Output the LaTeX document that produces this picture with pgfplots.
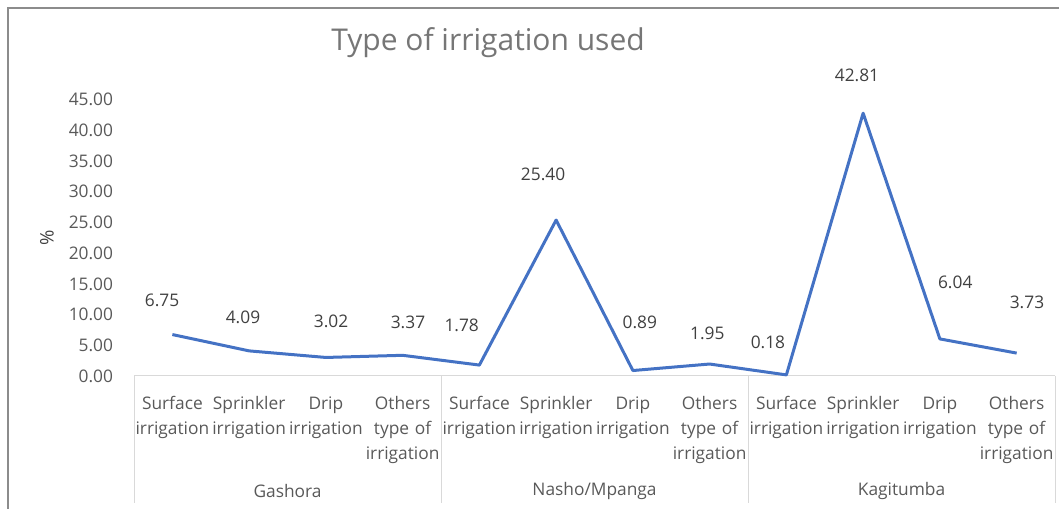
\documentclass[border=0pt]{standalone}
\usepackage{pgfplots}
\pgfplotsset{compat=1.18}
\usepackage{pgfplotstable}
\usepackage{fontspec}
\setmainfont{Open Sans}
\definecolor{linec}{HTML}{4472C4}
\definecolor{tickc}{HTML}{595959}
\definecolor{labc}{HTML}{404040}
\definecolor{titlec}{HTML}{767676}
\definecolor{gridc}{HTML}{D9D9D9}
\definecolor{framec}{HTML}{8C8C8C}

\pgfplotstableread{
x y
0 6.75
1 4.09
2 3.02
3 3.37
4 1.78
5 25.40
6 0.89
7 1.95
8 0.18
9 42.81
10 6.04
11 3.73
}\datatable

\pgfplotstableread{
x y lab
-0.135 12.38 6.75
0.92 9.61 4.09
2.067 8.96 3.02
3.07 8.79 3.37
3.77 8.31 1.78
4.83 32.9 25.40
6.09 8.79 0.89
6.97 7.0 1.95
7.76 5.54 0.18
8.92 49.0 42.81
10.20 15.3 6.04
11.135 12.05 3.73
}\labtable

\newcommand{\cf}{\fontsize{13}{18.5}\selectfont}

\begin{document}
\begin{tikzpicture}[x=0.75pt,y=0.75pt]
\path[use as bounding box] (0,0) rectangle (1059,509);
\draw[framec, line width=1.5pt] (8,0) -- (8,500.5) -- (1059,500.5);
\node[font=\fontsize{22.5}{26}\selectfont, text=titlec] at (488,466) {Type of irrigation used};
\node[rotate=90, font=\fontsize{14}{18}\selectfont, text=labc] at (47,271) {\%};
\begin{axis}[
  at={(100.5pt,99.75pt)}, anchor=south west,
  scale only axis, width=690.75pt, height=207.2pt,
  xmin=-0.5, xmax=11.5, ymin=0, ymax=45,
  clip=false,
  separate axis lines,
  axis x line*=bottom, axis y line*=left,
  y axis line style={draw=none},
  x axis line style={gridc, line width=0.75pt},
  major tick length=0pt,
  xtick={0,1,2,3,4,5,6,7,8,9,10,11},
  xticklabels={{Surface\\irrigation},{Sprinkler\\irrigation},{Drip\\irrigation},{Others\\type of\\irrigation},
               {Surface\\irrigation},{Sprinkler\\irrigation},{Drip\\irrigation},{Others\\type of\\irrigation},
               {Surface\\irrigation},{Sprinkler\\irrigation},{Drip\\irrigation},{Others\\type of\\irrigation}},
  xticklabel style={align=center, text width=60pt, anchor=north, font=\cf, text=tickc, yshift=-12pt},
  ytick={0,5,...,45},
  yticklabel style={font=\cf, text=tickc, xshift=-12.2pt,
    /pgf/number format/.cd, fixed, zerofill, precision=2, assume math mode=true},
]
\addplot[linec, line width=2.25pt, mark=none, line join=round] table[x=x, y=y] {\datatable};
\addplot[draw=none, mark=none, nodes near coords, point meta=explicit symbolic,
  nodes near coords style={anchor=center, font=\cf, text=labc}] table[x=x, y=y, meta=lab] {\labtable};
\foreach \s in {-0.5,3.5,7.5,11.5}{
  \edef\tmp{\noexpand\draw[gridc, line width=0.75pt] (axis cs:\s,0) -- ++(0pt,-95.25pt);}
  \tmp
}
\node[font=\cf, text=tickc] at (axis cs:1.5,0) [yshift=-86pt] {Gashora};
\node[font=\cf, text=tickc] at (axis cs:5.5,0) [yshift=-86pt] {Nasho/Mpanga};
\node[font=\cf, text=tickc] at (axis cs:9.5,0) [yshift=-86pt] {Kagitumba};
\end{axis}
\end{tikzpicture}
\end{document}
